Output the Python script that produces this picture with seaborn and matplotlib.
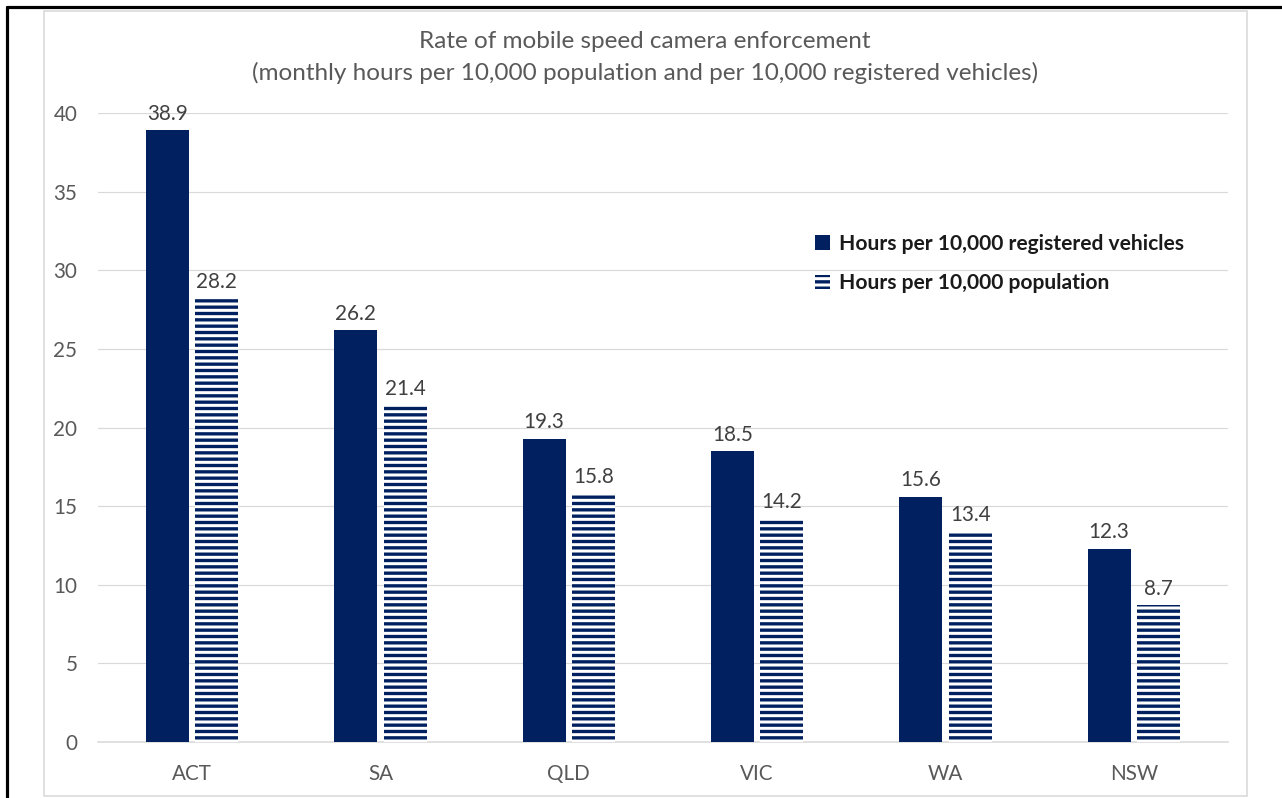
import matplotlib
matplotlib.use("Agg")
import matplotlib.pyplot as plt
import matplotlib.patches as mpatches
from matplotlib.lines import Line2D
import seaborn as sns
import pandas as pd

# ---- data ----
states = ["ACT", "SA", "QLD", "VIC", "WA", "NSW"]
per_vehicles = [38.9, 26.2, 19.3, 18.5, 15.6, 12.3]
per_population = [28.2, 21.4, 15.8, 14.2, 13.4, 8.7]
series_names = ["Hours per 10,000 registered vehicles", "Hours per 10,000 population"]
title_lines = ["Rate of mobile speed camera enforcement",
               "(monthly hours per 10,000 population and per 10,000 registered vehicles)"]
yticks = [0, 5, 10, 15, 20, 25, 30, 35, 40]

df = pd.DataFrame({
    "state": states * 2,
    "value": per_vehicles + per_population,
    "series": [series_names[0]] * len(states) + [series_names[1]] * len(states),
})

NAVY = "#002060"
DPI = 114
W, H = 1282, 798

sns.set_theme(style="white")
plt.rcParams["font.family"] = ["Lato", "DejaVu Sans"]
plt.rcParams["hatch.linewidth"] = 2.1

fig = plt.figure(figsize=(W / DPI, H / DPI), dpi=DPI)
ax = fig.add_axes([98 / W, 1 - 742 / H, (1228 - 98) / W, (742 - 113) / H])

sns.barplot(data=df, x="state", y="value", hue="series", order=states,
            hue_order=series_names, palette=[NAVY, NAVY], width=0.526, gap=0.133,
            saturation=1, errorbar=None, legend=False, ax=ax, zorder=3)

# hatched second series
for p in ax.containers[1]:
    p.set_facecolor("white")
    p.set_edgecolor(NAVY)
    p.set_hatch("---")
    p.set_linewidth(0)
for p in ax.containers[0]:
    p.set_linewidth(0)

for c in ax.containers:
    ax.bar_label(c, fmt="%.1f", padding=4, color="#404040", fontsize=13, clip_on=False)

ax.set_xlim(-0.5, len(states) - 0.5)
ax.set_ylim(0, 40)
ax.set_yticks(yticks)
ax.set_yticklabels([str(t) for t in yticks])
ax.set_xlabel("")
ax.set_ylabel("")
ax.grid(axis="y", color="#d9d9d9", linewidth=0.75, zorder=0)
ax.set_axisbelow(True)
for s in ["top", "right", "left"]:
    ax.spines[s].set_visible(False)
ax.spines["bottom"].set_color("#d9d9d9")
ax.spines["bottom"].set_linewidth(1.0)
ax.tick_params(axis="y", length=0, pad=13, labelsize=13, labelcolor="#595959")
ax.tick_params(axis="x", length=0, pad=14, labelsize=13, labelcolor="#595959")

# title
fig.text(645 / W, 1 - 42 / H, title_lines[0], ha="center", va="center",
         fontsize=15.3, color="#595959")
fig.text(645 / W, 1 - 73 / H, title_lines[1], ha="center", va="center",
         fontsize=15.3, color="#595959")

# legend
handles = [mpatches.Patch(facecolor=NAVY, edgecolor=NAVY, linewidth=0),
           mpatches.Patch(facecolor="white", edgecolor=NAVY, hatch="---", linewidth=0)]
leg = fig.legend(handles, series_names, loc="upper left",
                 bbox_to_anchor=(815 / W, 1 - 234 / H), frameon=False,
                 prop={"weight": "bold", "size": 13.3}, labelcolor="#1a1a1a",
                 handlelength=0.7, handleheight=0.7, handletextpad=0.42,
                 labelspacing=0.92, borderpad=0, borderaxespad=0)

# chart area border and outer frame
fig.add_artist(mpatches.Rectangle((44 / W, 1 - 796 / H), (1247 - 44) / W, (796 - 11) / H,
                                  transform=fig.transFigure, fill=False,
                                  edgecolor="#d9d9d9", linewidth=1.0))
fig.add_artist(Line2D([7 / W, 1], [1 - 7 / H, 1 - 7 / H], transform=fig.transFigure,
                      color="black", linewidth=2.0))
fig.add_artist(Line2D([7 / W, 7 / W], [0, 1 - 7 / H], transform=fig.transFigure,
                      color="black", linewidth=2.0))

fig.savefig("out.png", dpi=DPI, facecolor="white")
